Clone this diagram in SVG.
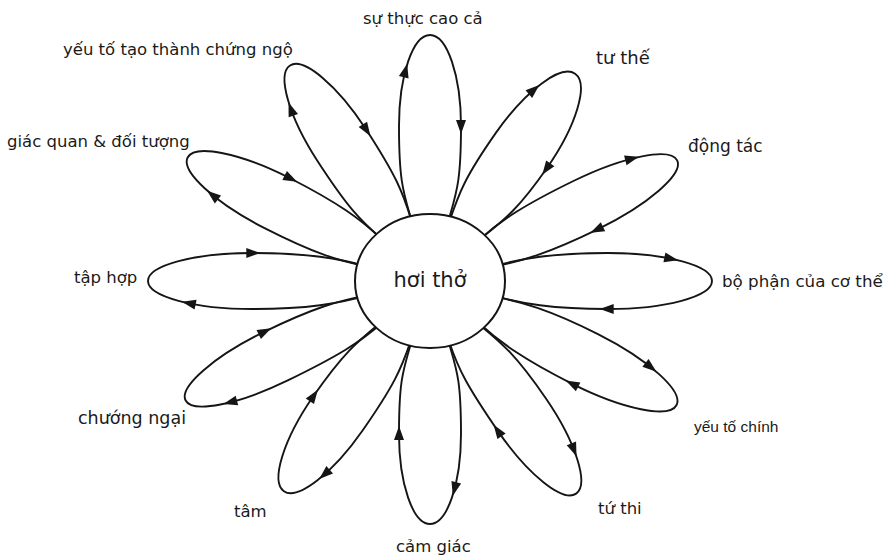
<svg xmlns="http://www.w3.org/2000/svg" xmlns:xlink="http://www.w3.org/1999/xlink" width="889" height="556" viewBox="0 0 889 556">
<style>
.petal{fill:none;stroke:#151515;stroke-width:1.9;stroke-linejoin:round}
.lbl{font-family:"DejaVu Sans",Verdana,sans-serif;font-size:16.5px;fill:#1a1a1a}
.lbl2{font-family:"Liberation Sans",Arial,sans-serif;font-size:15.5px;fill:#1a1a1a}
.hubtxt{font-family:"DejaVu Sans",Verdana,sans-serif;font-size:21px;fill:#1a1a1a;text-anchor:middle}
</style>
<defs>
<path id="ah" d="M8,0 L-6,-5 L-6,5 Z" fill="#151515"/>
</defs>
<rect width="889" height="556" fill="#ffffff"/>
<g id="connectors">
<g id="petal-su-thuc" transform="translate(430 281) rotate(-90)">
<path class="petal" d="M61.2,-18.7 C89.2,-26.7 100,-31 155,-31 A91,31 0 0 1 155,31 C100,31 89.2,26.7 61.2,18.7"/>
<use xlink:href="#ah" href="#ah" transform="translate(209.6 -24.8) rotate(14.3)"/>
<use xlink:href="#ah" href="#ah" transform="translate(155 31) rotate(180)"/>
</g>
<g id="petal-tu-the" transform="translate(430 281) rotate(-55)">
<path class="petal" d="M61.2,-18.7 C89.2,-26.7 104.4,-31 159.4,-31 A93.6,31 0 0 1 159.4,31 C104.4,31 89.8,24.6 61.8,16.6"/>
<use xlink:href="#ah" href="#ah" transform="translate(215.6 -24.8) rotate(13.9)"/>
<use xlink:href="#ah" href="#ah" transform="translate(159.4 31) rotate(180)"/>
</g>
<g id="petal-dong-tac" transform="translate(430 281) rotate(-26)">
<path class="petal" d="M62.1,-15.5 C90.1,-23.5 118.3,-27 173.3,-27 A101.7,27 0 0 1 173.3,27 C118.3,27 90.4,22.4 62.4,14.4"/>
<use xlink:href="#ah" href="#ah" transform="translate(234.3 -21.6) rotate(11.3)"/>
<use xlink:href="#ah" href="#ah" transform="translate(173.3 27) rotate(180)"/>
</g>
<g id="petal-bo-phan" transform="translate(430 281) rotate(0)">
<path class="petal" d="M62.4,-14.4 C90.4,-22.4 122.7,-28 177.7,-28 A104.3,28 0 0 1 177.7,28 C122.7,28 90.4,22.4 62.4,14.4"/>
<use xlink:href="#ah" href="#ah" transform="translate(240.3 -22.4) rotate(11.4)"/>
<use xlink:href="#ah" href="#ah" transform="translate(177.7 28) rotate(180)"/>
</g>
<g id="petal-yeu-to-chinh" transform="translate(430 281) rotate(26.7)">
<path class="petal" d="M62.4,-14.4 C90.4,-22.4 118.9,-28 173.9,-28 A102.1,28 0 0 1 173.9,28 C118.9,28 90.1,23.5 62.1,15.5"/>
<use xlink:href="#ah" href="#ah" transform="translate(235.2 -22.4) rotate(11.6)"/>
<use xlink:href="#ah" href="#ah" transform="translate(173.9 28) rotate(180)"/>
</g>
<g id="petal-tu-thi" transform="translate(430 281) rotate(55.5)">
<path class="petal" d="M62.1,-15.5 C90.1,-23.5 107.5,-29 162.5,-29 A95.5,29 0 0 1 162.5,29 C107.5,29 89.2,26.7 61.2,18.7"/>
<use xlink:href="#ah" href="#ah" transform="translate(219.8 -23.2) rotate(12.8)"/>
<use xlink:href="#ah" href="#ah" transform="translate(162.5 29) rotate(180)"/>
</g>
<g id="petal-cam-giac" transform="translate(430 281) rotate(90)">
<path class="petal" d="M61.2,-18.7 C89.2,-26.7 98.1,-31 153.1,-31 A89.9,31 0 0 1 153.1,31 C98.1,31 89.2,26.7 61.2,18.7"/>
<use xlink:href="#ah" href="#ah" transform="translate(207 -24.8) rotate(14.5)"/>
<use xlink:href="#ah" href="#ah" transform="translate(153.1 31) rotate(180)"/>
</g>
<g id="petal-tam" transform="translate(430 281) rotate(124.8)">
<path class="petal" d="M61.2,-18.7 C89.2,-26.7 106.3,-30 161.3,-30 A94.7,30 0 0 1 161.3,30 C106.3,30 89.8,24.6 61.8,16.6"/>
<use xlink:href="#ah" href="#ah" transform="translate(218.1 -24) rotate(13.4)"/>
<use xlink:href="#ah" href="#ah" transform="translate(161.3 30) rotate(180)"/>
</g>
<g id="petal-chuong-ngai" transform="translate(430 281) rotate(154)">
<path class="petal" d="M61.8,-16.6 C89.8,-24.6 116.4,-27 171.4,-27 A100.6,27 0 0 1 171.4,27 C116.4,27 90.4,22.4 62.4,14.4"/>
<use xlink:href="#ah" href="#ah" transform="translate(231.8 -21.6) rotate(11.4)"/>
<use xlink:href="#ah" href="#ah" transform="translate(171.4 27) rotate(180)"/>
</g>
<g id="petal-tap-hop" transform="translate(430 281) rotate(180)">
<path class="petal" d="M62.4,-14.4 C90.4,-22.4 122.7,-28 177.7,-28 A104.3,28 0 0 1 177.7,28 C122.7,28 90.4,22.4 62.4,14.4"/>
<use xlink:href="#ah" href="#ah" transform="translate(240.3 -22.4) rotate(11.4)"/>
<use xlink:href="#ah" href="#ah" transform="translate(177.7 28) rotate(180)"/>
</g>
<g id="petal-giac-quan" transform="translate(430 281) rotate(207)">
<path class="petal" d="M62.1,-15.5 C90.1,-23.5 116.4,-28 171.4,-28 A100.6,28 0 0 1 171.4,28 C116.4,28 90.1,23.5 62.1,15.5"/>
<use xlink:href="#ah" href="#ah" transform="translate(231.8 -22.4) rotate(11.8)"/>
<use xlink:href="#ah" href="#ah" transform="translate(171.4 28) rotate(180)"/>
</g>
<g id="petal-yeu-to-tao-thanh" transform="translate(430 281) rotate(237)">
<path class="petal" d="M61.5,-17.6 C89.5,-25.6 106.9,-29 161.9,-29 A95.1,29 0 0 1 161.9,29 C106.9,29 89.5,25.6 61.5,17.6"/>
<use xlink:href="#ah" href="#ah" transform="translate(219 -23.2) rotate(12.9)"/>
<use xlink:href="#ah" href="#ah" transform="translate(161.9 29) rotate(180)"/>
</g>
</g>
<g id="hub">
<ellipse cx="430" cy="281" rx="75" ry="67" fill="#ffffff" stroke="#151515" stroke-width="2"/>
<text class="hubtxt" x="430" y="287">hơi thở</text>
</g>
<g id="label-su-thuc-cao-ca"><text class="lbl" x="363" y="24">sự thực cao cả</text></g>
<g id="label-tu-the"><text class="lbl" x="596" y="64" style="font-size:18px">tư thế</text></g>
<g id="label-dong-tac"><text class="lbl" x="688" y="152" style="font-size:17px">động tác</text></g>
<g id="label-bo-phan"><text class="lbl" x="722" y="287" style="font-size:16.7px">bộ phận của cơ thể</text></g>
<g id="label-yeu-to-chinh"><text class="lbl2" x="694" y="432">yếu tố chính</text></g>
<g id="label-tu-thi"><text class="lbl" x="598" y="514">tứ thi</text></g>
<g id="label-cam-giac"><text class="lbl" x="396" y="552">cảm giác</text></g>
<g id="label-tam"><text class="lbl" x="234" y="517">tâm</text></g>
<g id="label-chuong-ngai"><text class="lbl" x="78" y="424" style="font-size:17.5px">chướng ngại</text></g>
<g id="label-tap-hop"><text class="lbl" x="74" y="283">tập hợp</text></g>
<g id="label-giac-quan"><text class="lbl" x="7" y="147">giác quan &amp; đối tượng</text></g>
<g id="label-yeu-to-tao-thanh"><text class="lbl" x="63" y="55">yếu tố tạo thành chứng ngộ</text></g>
</svg>
